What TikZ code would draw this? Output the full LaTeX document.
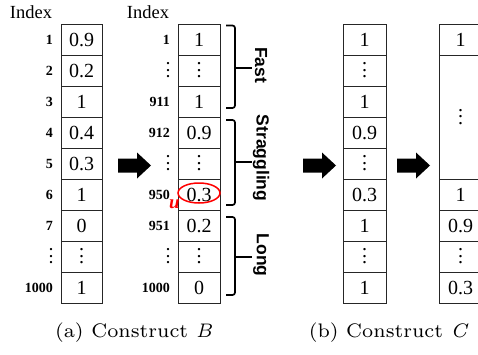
\documentclass[tikz,border=0pt]{standalone}
\usepackage{fontspec}
\usetikzlibrary{shapes.geometric}
\newfontfamily\tnr{Liberation Serif}
\newfontfamily\lsans{Liberation Sans}
\newfontfamily\lmseven{lmroman7-regular.otf}
\newfontfamily\lmsevenit{lmroman7-italic.otf}
\newcommand\myvd{\vbox{\baselineskip=6.5pt\lineskiplimit=0pt\hbox{.}\hbox{.}\hbox{.}}}
\begin{document}
\begin{tikzpicture}[x=1pt,y=-1pt,
  cell/.style={draw=black!85, line width=0.8pt, minimum width=42pt, minimum height=31pt, inner sep=0pt, font=\tnr\fontsize{20}{20}\selectfont},
  idx/.style={font=\tnr\bfseries\fontsize{14}{14}\selectfont, anchor=east, inner sep=0pt},
  hdr/.style={font=\tnr\fontsize{18.5}{18.5}\selectfont, inner sep=0pt},
  brace/.style={line width=1.7pt, rounded corners=2.5pt},
  grp/.style={font=\lsans\bfseries\fontsize{17.5}{17.5}\selectfont, rotate=-90, inner sep=0pt},
  fat/.style={fill=black},
  captext/.style={font=\lmseven\fontsize{19.6}{19.6}\selectfont, inner sep=0pt}]
\useasboundingbox (0,0) rectangle (478,354);
\clip (0,0) rectangle (478,354);
% headers
\node[hdr] (h1) at (31,12) {Index};
\node[hdr] (h2) at (148,12) {Index};
% column 1
\foreach \v/\l [count=\i from 0] in {0.9/1,0.2/2,1/3,0.4/4,0.3/5,1/6,0/7,\myvd/\myvd,1/1000}{
  \node[cell, minimum width=41pt] (a\i) at (81.5,39.5+31*\i) {\v};
  \node[idx] (la\i) at (53,39.5+31*\i) {\l};
}
% column 2
\foreach \v/\l [count=\i from 0] in {1/1,\myvd/\myvd,1/911,0.9/912,\myvd/\myvd,0.3/950,0.2/951,\myvd/\myvd,0/1000}{
  \node[cell] (b\i) at (199,39.5+31*\i) {\v};
  \node[idx] (lb\i) at (170,39.5+31*\i) {\l};
}
\node[draw=red, line width=1.5pt, ellipse, minimum width=42pt, minimum height=20pt, inner sep=0pt] (sel) at (199,193) {};
\node[font=\tnr\itshape\bfseries\fontsize{19}{19}\selectfont, text=red, inner sep=0pt] (u) at (174.5,204.5) {u};
% braces
\draw[brace] (226,25.5) -- (235,25.5) -- (235,108) -- (226,108);
\draw[brace] (235,68) -- (252,68);
\draw[brace] (226,120) -- (235,120) -- (235,205) -- (226,205);
\draw[brace] (235,162) -- (252,162);
\draw[brace] (226,217) -- (235,217) -- (235,295) -- (226,295);
\draw[brace] (235,257) -- (252,257);
\node[grp] (gf) at (261,65) {Fast};
\node[grp] (gs) at (261,158) {Straggling};
\node[grp] (gl) at (261,255) {Long};
% column 3
\foreach \v [count=\i from 0] in {1,\myvd,1,0.9,\myvd,0.3,1,\myvd,1}{
  \node[cell, minimum width=43pt] (c\i) at (364.5,39.5+31*\i) {\v};
}
% column 4
\node[cell, minimum width=43pt] (d0) at (460.5,39.5) {1};
\node[cell, minimum width=43pt, minimum height=124pt] (d1) at (460.5,117) {\myvd};
\foreach \v [count=\i from 2] in {1,0.9,\myvd,0.3}{
  \node[cell, minimum width=43pt] (d\i) at (460.5,194.5+31*\i-62) {\v};
}
% fat arrows
\foreach \x in {118,303,397}{
  \fill[fat] (\x,158.5) -- (\x+19,158.5) -- (\x+19,152.5) -- (\x+33,165.5) -- (\x+19,178.5) -- (\x+19,172.5) -- (\x,172.5) -- cycle;
}
% captions
\node[captext] (capa) at (133.5,333) {(a) Construct {\lmsevenit B}};
\node[captext] (capb) at (388,333) {(b) Construct {\lmsevenit C}};
\end{tikzpicture}
\end{document}
